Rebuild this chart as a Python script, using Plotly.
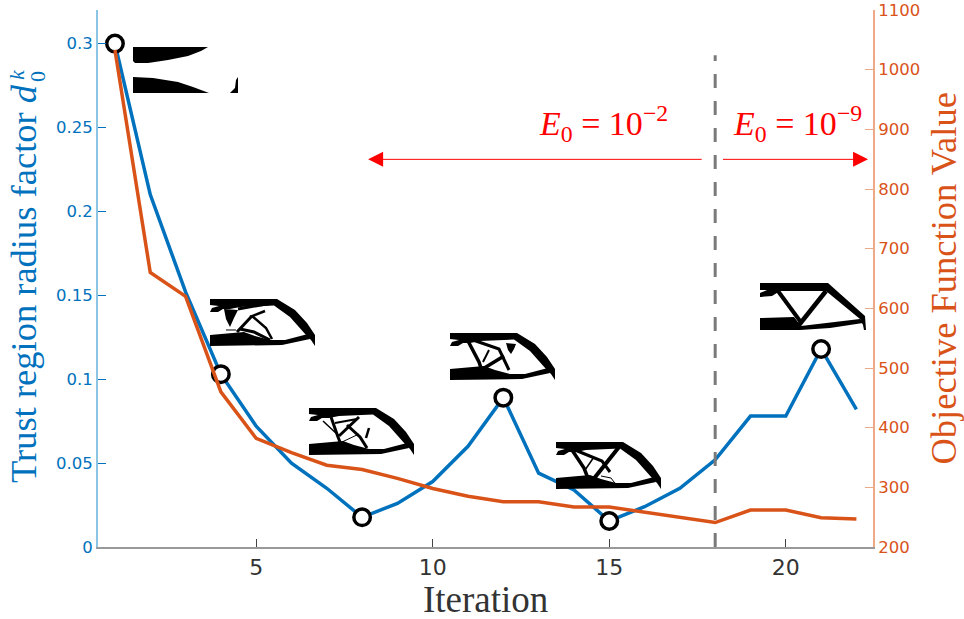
import plotly.graph_objects as go

iterations = list(range(1, 23))
trust_radius = [0.3, 0.21, 0.152, 0.103, 0.072, 0.05, 0.035, 0.0177, 0.026, 0.039, 0.06,
                0.089, 0.044, 0.034, 0.0155, 0.024, 0.035, 0.052, 0.078, 0.078, 0.118, 0.082]
objective = [1033, 660, 620, 460, 382, 358, 337, 330, 315, 298, 285,
             276, 276, 267, 267, 258, 249, 241, 262, 262, 249, 247]
marked_iterations = [1, 4, 8, 12, 15, 21]
marked_radius = [0.3, 0.103, 0.0177, 0.089, 0.0155, 0.118]
switch_iteration = [18, 18]
switch_extent = [0, 0.293]
left_ticks = [0, 0.05, 0.1, 0.15, 0.2, 0.25, 0.3]
left_labels = ["0", "0.05", "0.1", "0.15", "0.2", "0.25", "0.3"]
right_ticks = list(range(200, 1101, 100))
x_ticks = [5, 10, 15, 20]

W, H = 964, 619
L, R, T, B = 98, 873, 10, 547
BLUE, ORANGE = "#0072BD", "#D95319"
SERIF = "'Liberation Serif', 'DejaVu Serif', serif"


def px(x, y):
    return (x - L) / (R - L), (B - y) / (B - T)


def poly(ox, oy, pts):
    d = ""
    for i, (x, y) in enumerate(pts):
        a, b = px(ox + x, oy + y)
        d += f"{'M' if i == 0 else 'L'}{a:.5f},{b:.5f} "
    return dict(type="path", path=d + "Z", xref="paper", yref="paper",
                fillcolor="black", line=dict(width=0), layer="above")


def stroke(ox, oy, pts, w=2.5, color="black"):
    d = ""
    for i, (x, y) in enumerate(pts):
        a, b = px(ox + x, oy + y)
        d += f"{'M' if i == 0 else 'L'}{a:.5f},{b:.5f} "
    return dict(type="path", path=d, xref="paper", yref="paper",
                line=dict(width=w, color=color), layer="above")


TOP = [(0, 0), (67, 0), (85, 11), (97, 24), (105, 36), (105, 47), (101, 41), (96, 36), (80, 18),
       (64, 6.5), (30, 8), (20, 10), (13, 10), (8, 13), (0, 13), (2, 9), (9, 7), (0, 6)]
BOTTOM = [(0, 36), (34, 33), (45, 37), (60, 41), (75, 41), (98, 35), (100, 40), (72, 46), (0, 47)]

shapes = []


def frame(ox, oy):
    shapes.append(poly(ox, oy, TOP))
    shapes.append(poly(ox, oy, BOTTOM))


# iteration 1
ox, oy = 133, 47
shapes.append(poly(ox, oy, [(0, 0), (75, 0), (68, 4), (55, 9), (35, 13), (15, 16), (2, 16), (0, 14)]))
shapes.append(poly(ox, oy, [(0, 30), (20, 31), (45, 35), (60, 40), (76, 46), (0, 46)]))
shapes.append(poly(ox, oy, [(97, 46), (102, 41), (103, 33), (105, 30), (105, 46)]))

# iteration 4
ox, oy = 210, 299
frame(ox, oy)
shapes.append(poly(ox, oy, [(14, 10), (28, 11), (24, 19), (20, 28), (16, 20)]))
shapes.append(stroke(ox, oy, [(28, 10), (68, 3)], 3))
shapes.append(stroke(ox, oy, [(42, 17), (27, 33)], 3))
shapes.append(stroke(ox, oy, [(42, 17), (56, 29), (62, 40)], 2.5))
shapes.append(stroke(ox, oy, [(30, 30), (44, 33), (60, 41)], 3))
shapes.append(stroke(ox, oy, [(16, 31), (26, 31)], 1))
shapes.append(stroke(ox, oy, [(55, 12), (40, 18)], 2.5))

# iteration 8
ox, oy = 309, 408
frame(ox, oy)
shapes.append(stroke(ox, oy, [(22, 9), (29, 29), (33, 39)], 3))
shapes.append(stroke(ox, oy, [(26, 15), (48, 11)], 2))
shapes.append(stroke(ox, oy, [(30, 28), (50, 9)], 3))
shapes.append(stroke(ox, oy, [(38, 17), (51, 29), (58, 40)], 3))
shapes.append(stroke(ox, oy, [(60, 20), (57, 30)], 2.5))
shapes.append(stroke(ox, oy, [(33, 34), (50, 26)], 1))
shapes.append(stroke(ox, oy, [(14, 13), (30, 28)], 1.5))

# iteration 12
ox, oy = 450, 333
frame(ox, oy)
shapes.append(stroke(ox, oy, [(18, 8), (29, 29), (33, 41)], 3.5))
shapes.append(stroke(ox, oy, [(23, 7), (49, 16), (59, 37)], 3))
shapes.append(stroke(ox, oy, [(33, 29), (39, 17)], 2))
shapes.append(stroke(ox, oy, [(31, 37), (54, 23)], 3.5))
shapes.append(poly(ox, oy, [(56, 10), (66, 11), (64, 16), (61, 21), (58, 17)]))

# iteration 15
ox, oy = 556, 442
frame(ox, oy)
shapes.append(stroke(ox, oy, [(16, 8), (28, 26), (33, 39)], 3.5))
shapes.append(stroke(ox, oy, [(19, 8), (46, 19), (54, 30)], 3))
shapes.append(stroke(ox, oy, [(63, 5), (36, 39)], 4))
shapes.append(stroke(ox, oy, [(29, 28), (38, 15)], 1.5))
shapes.append(stroke(ox, oy, [(45, 34), (55, 36), (61, 44)], 1))

# iteration 21
ox, oy = 760, 283
shapes.append(poly(ox, oy, [(0, 0), (68, 0), (105, 33), (106, 47), (104, 47), (103, 42), (100, 36),
                            (66, 8), (20, 8), (12, 13), (0, 14), (0, 10), (7, 7), (0, 7)]))
shapes.append(poly(ox, oy, [(0, 35), (34, 34), (41, 43), (100, 36), (103, 40), (70, 45), (40, 47), (0, 47)]))
shapes.append(stroke(ox, oy, [(18, 8), (40, 38)], 4))
shapes.append(stroke(ox, oy, [(66, 8), (39, 42)], 4.5))

fig = go.Figure()
fig.add_trace(go.Scatter(x=iterations, y=trust_radius, mode="lines", yaxis="y",
                         line=dict(color=BLUE, width=3.5), showlegend=False))
fig.add_trace(go.Scatter(x=switch_iteration, y=switch_extent, mode="lines", yaxis="y",
                         line=dict(color="#7a7a7a", width=3, dash="14px,13px"), showlegend=False))
fig.add_trace(go.Scatter(x=marked_iterations, y=marked_radius, mode="markers", yaxis="y",
                         marker=dict(symbol="circle", size=16.5, color="white",
                                     line=dict(color="black", width=3.5)), showlegend=False))
fig.add_trace(go.Scatter(x=iterations, y=objective, mode="lines", yaxis="y2",
                         line=dict(color=ORANGE, width=3.5), showlegend=False))


def math_label(text, x, y):
    return dict(text=text, x=x, y=y, xref="x", yref="y", showarrow=False,
                font=dict(family=SERIF, size=34, color="#FF0000"))


def arrow(x0, x1, y):
    return dict(x=x1, y=y, ax=x0, ay=y, xref="x", yref="y", axref="x", ayref="y", text="",
                showarrow=True, arrowhead=2, arrowsize=3, arrowwidth=1, arrowcolor="#FF0000")


def paper_text(text, x, y, size, color, angle=0):
    a, b = px(x, y)
    return dict(text=text, x=a, y=b, showarrow=False, textangle=angle, xref="paper", yref="paper",
                xanchor="center", yanchor="middle",
                font=dict(family=SERIF, size=size, color=color))


annotations = [
    math_label("<i>E</i><sub>0</sub> = 10<sup>−2</sup>", 14.84, 0.2525),
    math_label("<i>E</i><sub>0</sub> = 10<sup>−9</sup>", 20.34, 0.2525),
    arrow(17.66, 8.17, 0.231),
    arrow(18.18, 22.33, 0.231),
    paper_text("Iteration", 485.5, 599, 37, "#333333"),
    paper_text("Trust region radius factor <i>d</i>", 23, 284, 36.5, BLUE, -90),
    paper_text("0", 37, 77, 22, BLUE, -90),
    paper_text("<i>k</i>", 16, 75, 22, BLUE, -90),
    paper_text("Objective Function Value", 942.5, 279, 36.5, ORANGE, -90),
]

fig.update_layout(
    width=W, height=H,
    margin=dict(l=L, r=W - R, t=T, b=H - B, autoexpand=False),
    paper_bgcolor="white", plot_bgcolor="white",
    showlegend=False,
    shapes=shapes,
    annotations=annotations,
    xaxis=dict(range=[0.52, 22.47], tickvals=x_ticks, ticks="inside", ticklen=8, tickcolor="#444",
               showline=True, linecolor="#999999", linewidth=2, showgrid=False, zeroline=False,
               tickfont=dict(family="DejaVu Sans", size=22, color="#333333")),
    yaxis=dict(range=[0, 0.32], tickvals=left_ticks, ticktext=left_labels, ticks="inside", ticklen=8,
               tickcolor=BLUE, showline=True, linecolor="#8CC4E4", linewidth=2, showgrid=False, zeroline=False,
               tickfont=dict(family="DejaVu Sans", size=16.5, color=BLUE)),
    yaxis2=dict(range=[200, 1100], tickvals=right_ticks, overlaying="y", side="right", ticks="inside", ticklen=8,
                tickcolor="#EEA988", showline=True, linecolor="#EEA988", linewidth=2, showgrid=False, zeroline=False,
                tickfont=dict(family="DejaVu Sans", size=16.5, color=ORANGE)),
)

fig.write_html("out.html", config={"displayModeBar": False},
               post_script="document.body.style.margin='0';")
